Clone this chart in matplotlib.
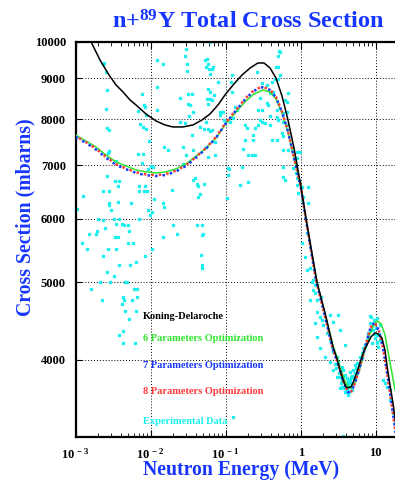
import matplotlib
matplotlib.use("Agg")
import matplotlib.pyplot as plt
from matplotlib.ticker import FixedLocator, FixedFormatter, LogLocator, NullFormatter

# ── Data ──────────────────────────────────────────────────────────────────────

kd_energy = [0.001, 0.00129, 0.0016, 0.00211, 0.00278, 0.00345, 0.00428, 0.0053,
             0.00637, 0.00866, 0.0118, 0.0155, 0.0198, 0.027, 0.0366, 0.0483,
             0.0618, 0.079, 0.1, 0.129, 0.165, 0.212, 0.269, 0.324, 0.39, 0.468,
             0.563, 0.677, 0.814, 1.0, 1.18, 1.37, 1.65, 2.11, 2.70, 3.05, 3.34,
             3.66, 4.0, 4.27, 4.68, 4.98, 5.45, 6.17, 6.98, 7.65, 8.65, 9.78,
             10.7, 12.1, 13.3, 14.2, 15.5, 17.0, 18.7]
kd_xs = [10800, 10343, 10000, 9486, 9085, 8827, 8650, 8454,
         8333, 8120, 7957, 7866, 7821, 7821, 7866, 7980,
         8120, 8333, 8601, 8853, 9085, 9270, 9405, 9405, 9270, 9007,
         8552, 7980, 7361, 6617, 6000, 5530, 5000, 4576, 4148, 4007, 3883,
         3774, 3697, 3688, 3697, 3741, 3827, 3961, 4102, 4172, 4270, 4320,
         4307, 4257, 4110, 3917, 3718, 3530, 3296]

p6_energy = [0.001, 0.00137, 0.00186, 0.00253, 0.00345, 0.00468, 0.00637,
             0.00866, 0.0118, 0.0159, 0.0217, 0.0296, 0.039, 0.0546, 0.0742,
             0.1, 0.137, 0.186, 0.238, 0.316, 0.39, 0.468, 0.563, 0.677, 0.814,
             1.0, 1.18, 1.37, 1.65, 2.11, 2.7, 3.05, 3.45, 3.89, 4.4, 4.83,
             5.29, 6.17, 7.2, 8.39, 9.5, 10.4, 11.8, 13.3, 14.2, 16.0, 18.1]
p6_xs = [7640, 7511, 7382, 7214, 7070, 6990, 6910,
         6870, 6850, 6870, 6930, 7030, 7173, 7361, 7576,
         7889, 8166, 8430, 8601, 8701, 8650, 8478, 8143, 7709, 7152,
         6600, 5970, 5500, 4990, 4563, 4160, 4031, 3883, 3760, 3686, 3686,
         3740, 3906, 4115, 4307, 4434, 4472, 4434, 4295, 4149, 3906, 3665]

p7_energy = [0.001, 0.00137, 0.00186, 0.00253, 0.00345, 0.00468, 0.00637,
             0.00866, 0.0118, 0.0159, 0.0217, 0.0296, 0.039, 0.0546, 0.0742,
             0.1, 0.137, 0.186, 0.238, 0.305, 0.39, 0.468, 0.563, 0.677, 0.814,
             1.0, 1.17, 1.36, 1.62, 2.07, 2.65, 3.0, 3.4, 3.8, 4.3, 4.75, 5.2,
             6.1, 7.1, 8.2, 8.9, 9.8, 11.0, 12.5, 14.0, 15.5, 17.0, 18.5]
p7_xs = [7598, 7470, 7330, 7160, 7010, 6925, 6850,
         6805, 6790, 6810, 6880, 6990, 7140, 7345, 7580,
         7900, 8200, 8490, 8680, 8770, 8700, 8520, 8170, 7720, 7150,
         6580, 6000, 5500, 5000, 4560, 4140, 4000, 3860, 3730, 3640, 3650, 3720,
         3900, 4120, 4330, 4430, 4440, 4350, 4140, 3880, 3640, 3420, 3230]

p8_energy = p7_energy
p8_xs = [7615, 7487, 7346, 7176, 7025, 6940, 6865,
         6820, 6805, 6825, 6895, 7005, 7155, 7360, 7595,
         7915, 8215, 8505, 8695, 8785, 8715, 8530, 8175, 7725, 7155,
         6585, 6005, 5505, 5000, 4560, 4140, 4000, 3860, 3730, 3640, 3650, 3720,
         3900, 4120, 4330, 4430, 4440, 4350, 4140, 3880, 3640, 3420, 3230]

# experimental points (energy MeV, cross section mb)
exp_points = [
    (0.00231, 9380), (0.00261, 8700), (0.00253, 8240), (0.00765, 8600), (0.00814, 8330),
    (0.0084, 8285), (0.00677, 8190), (0.00866, 8096), (0.0072, 7890), (0.00261, 7800),
    (0.00278, 7753), (0.00789, 7821), (0.00866, 7776), (0.00949, 7511), (0.00278, 7298),
    (0.0027, 7256), (0.00677, 7235), (0.00789, 7235), (0.00345, 7091), (0.00765, 7050),
    (0.00921, 6930), (0.0107, 6970), (0.00261, 6791), (0.00334, 6694), (0.00378, 6694),
    (0.00367, 6598), (0.00698, 6598), (0.00231, 6503), (0.00278, 6503), (0.00698, 6503),
    (0.00814, 6503), (0.00893, 6503), (0.0084, 6598), (0.00125, 6410), (0.00367, 6300),
    (0.00278, 6282), (0.00278, 6246), (0.00546, 6282), (0.00104, 6175), (0.00296, 6157),
    (0.00921, 6157), (0.00979, 6069), (0.00198, 6000), (0.00324, 6000), (0.00378, 6000),
    (0.00698, 6000), (0.00231, 5983), (0.00414, 5914), (0.00345, 5914), (0.00441, 5897),
    (0.00498, 5897), (0.00246, 5846), (0.00192, 5795), (0.00514, 5795), (0.00186, 5745),
    (0.0015, 5745), (0.00334, 5696), (0.00367, 5696),
    (0.00121, 5598), (0.00141, 5502), (0.0027, 5502), (0.00345, 5502), (0.00498, 5598),
    (0.00581, 5598), (0.0104, 5502), (0.00231, 5392), (0.0084, 5392), (0.00378, 5254),
    (0.0053, 5254), (0.00637, 5300), (0.00261, 5149), (0.00324, 5090), (0.00211, 5003),
    (0.00287, 5003), (0.00454, 5003), (0.00483, 5003), (0.0016, 4903), (0.00599, 4903),
    (0.00657, 4903), (0.00224, 4750), (0.00427, 4792), (0.00441, 4750), (0.00563, 4750),
    (0.00657, 4792), (0.00414, 4696), (0.00454, 4603), (0.00637, 4603), (0.00514, 4498),
    (0.00427, 4345), (0.00378, 4295), (0.00427, 4197), (0.00618, 4197),
    (0.0296, 9792), (0.0146, 9377), (0.0287, 9596), (0.0305, 9377), (0.0305, 9190),
    (0.053, 9486), (0.0563, 9514), (0.0581, 9377), (0.0546, 9297), (0.0599, 9243),
    (0.0657, 9243), (0.0677, 9297), (0.0618, 9111), (0.079, 8904), (0.0581, 8725),
    (0.0618, 8650), (0.0698, 8576), (0.0314, 8601), (0.0355, 8601), (0.0246, 8502),
    (0.0563, 8478), (0.0618, 8478), (0.0657, 8454), (0.0581, 8357), (0.0314, 8357),
    (0.0334, 8333), (0.0121, 8214), (0.0366, 8166), (0.0324, 8073), (0.0893, 8166),
    (0.0839, 8096), (0.0246, 7934), (0.0287, 7911), (0.0546, 7934), (0.0949, 7980),
    (0.0454, 7821), (0.0514, 7776), (0.0581, 7776), (0.0618, 7731), (0.0657, 7753),
    (0.0355, 7643), (0.015, 7382), (0.017, 7319), (0.027, 7382), (0.0366, 7319),
    (0.053, 7361), (0.072, 7490), (0.072, 7214), (0.0296, 7214), (0.0581, 7173),
    (0.027, 7030), (0.0101, 6990), (0.111, 6930), (0.039, 6752), (0.0366, 6713),
    (0.0414, 6636), (0.0428, 6598), (0.0514, 6636), (0.0454, 6447), (0.0428, 6391),
    (0.0192, 6522), (0.0146, 6282), (0.015, 6210), (0.0111, 6355), (0.0104, 6121),
    (0.0198, 5897), (0.0414, 5897), (0.0483, 5897), (0.0498, 5745), (0.0483, 5729),
    (0.0224, 5745), (0.0146, 5696), (0.0469, 5408), (0.0483, 5254), (0.0483, 5209),
    (0.0618, 9990), (0.0121, 9486), (0.0121, 8776), (0.00238, 9405), (0.00253, 9164),
    (0.53, 9707), (0.498, 9596), (0.468, 9297), (0.498, 9297), (0.53, 9085),
    (0.454, 8981), (0.498, 8981), (0.261, 9164), (0.121, 9085), (0.118, 8904),
    (0.121, 8650), (0.305, 8878), (0.414, 8904), (0.355, 8827), (0.427, 8650),
    (0.39, 8626), (0.677, 8626), (0.617, 8454), (0.657, 8405), (0.287, 8502),
    (0.355, 8380), (0.305, 8214), (0.269, 8214), (0.366, 8333), (0.483, 8214),
    (0.133, 8285), (0.142, 8214), (0.125, 8026), (0.092, 8166), (0.39, 8073),
    (0.483, 8049), (0.581, 8143), (0.657, 8166), (0.287, 7980), (0.305, 7934),
    (0.334, 7911), (0.39, 7866), (0.269, 7866), (0.181, 7866), (0.192, 7798),
    (0.246, 7798), (0.498, 7980), (0.581, 7934), (0.657, 7866), (0.231, 7643),
    (0.563, 7687), (0.581, 7620), (0.181, 7533), (0.231, 7533), (0.414, 7533),
    (0.483, 7533), (0.17, 7340), (0.198, 7214), (0.224, 7214), (0.246, 7214),
    (0.581, 7319), (0.677, 7319), (0.766, 7382), (0.892, 7277), (0.978, 7277),
    (0.892, 7152), (0.165, 6970), (0.107, 6950), (0.107, 6811), (0.581, 6970),
    (0.79, 6950), (0.865, 6850), (0.581, 6772), (0.617, 6713), (0.155, 6617),
    (0.198, 6675), (0.892, 6752), (0.892, 6617), (1.04, 6579), (1.25, 6579),
    (0.92, 6466), (1.07, 6391), (1.04, 6336), (1.25, 6282), (0.104, 6373),
    (1.21, 5762), (1.04, 5598), (1.14, 5377), (1.21, 5179), (1.33, 5209),
    (1.46, 5032), (1.65, 4960), (1.46, 4889), (1.55, 4847), (1.65, 4750),
    (1.86, 4792), (0.114, 7934), (0.0839, 8166), (0.52, 9730),
    (1.33, 4750), (1.55, 4960), (1.41, 5003), (1.65, 4589), (1.81, 4524),
    (1.92, 4485), (1.98, 4421), (2.46, 4550), (3.15, 4550), (2.24, 4320),
    (2.46, 4234), (2.61, 4149), (2.7, 4090), (3.05, 4031), (3.15, 3973),
    (3.55, 3917), (3.66, 3883), (3.89, 3827), (4.14, 3794), (4.54, 3772),
    (4.83, 3805), (4.98, 3883), (5.29, 3850), (4.27, 3740), (4.54, 3697),
    (4.14, 3665), (3.89, 3644), (3.34, 3686), (5.63, 3962), (6.17, 4031),
    (6.56, 4078), (6.77, 4137), (7.2, 4173), (7.65, 4234), (7.89, 4295),
    (8.39, 4357), (8.65, 4524), (8.39, 4446), (9.2, 4421), (9.78, 4258),
    (10.4, 4197), (8.92, 4197), (10.7, 4149), (11.4, 4234), (10.4, 4295),
    (13.3, 3740), (14.2, 3697), (15.5, 3665), (17.0, 3430), (18.1, 3333),
    (1.55, 4446), (1.65, 4270), (1.81, 4137), (2.11, 4031), (2.46, 3973),
    (2.7, 3883), (3.05, 3805), (3.66, 3772), (4.14, 3718), (4.27, 3613),
    (4.98, 3740), (5.81, 3883), (6.56, 4031), (7.2, 4149), (7.89, 4270),
    (8.39, 4537), (9.2, 4357), (10.4, 4209), (12.5, 3772), (15.5, 3561),
    (3.66, 3210), (2.7, 4459), (3.34, 4357), (3.89, 4173), (4.54, 3861),
    (5.29, 3940), (4.83, 3665), (4.4, 3644), (9.78, 4485), (10.4, 4511),
    (11.4, 4421),
    (2.9, 3950), (3.0, 3900), (3.2, 3850), (3.3, 3800), (3.5, 3760),
    (3.6, 3700), (3.8, 3680), (4.0, 3720), (4.2, 3690), (4.4, 3700),
    (4.6, 3740), (4.7, 3800), (4.9, 3820), (5.1, 3790), (3.7, 3820),
    (3.4, 3740), (4.0, 3640), (4.3, 3760), (5.5, 3900), (6.0, 3960),
    (9.0, 4350), (9.5, 4300), (10.0, 4380), (8.0, 4320), (11.0, 4300),
    (9.5, 4480),
]

y_ticks = [4000, 5000, 6000, 7000, 8000, 9000, 10000]
x_ticks = [1e-3, 1e-2, 1e-1, 1, 10]
x_tick_labels = [r"10$^{\,-3}$", r"10$^{\,-2}$", r"10$^{\,-1}$", "1", "10"]

legend_labels = ["Koning-Delaroche", "6 Parameters Optimization",
                 "7 Parameters Optimization", "8 Parameters Optimization",
                 "Experimental Data"]

# ── Style ─────────────────────────────────────────────────────────────────────

BLUE = "#1636ff"
GREEN = "#2ee62e"
RED = "#ff3a3a"
CYAN = "#19f0f0"

plt.rcParams["font.family"] = ["Liberation Serif", "DejaVu Serif"]
plt.rcParams["font.weight"] = "bold"
plt.rcParams["mathtext.default"] = "regular"

fig = plt.figure(figsize=(3.95, 4.82), dpi=100)
ax = fig.add_axes([0.1916, 0.0934, 0.8167, 0.8201])

exp_e = [p[0] for p in exp_points]
exp_s = [p[1] for p in exp_points]
ax.plot(exp_e, exp_s, linestyle="none", marker="s", markersize=1.4,
        color=CYAN, mec=CYAN, zorder=2)

ax.plot(kd_energy, kd_xs, color="black", lw=1.1, zorder=4)
ax.plot(p6_energy, p6_xs, color=GREEN, lw=1.1, zorder=3)
ax.plot(p7_energy, p7_xs, color=BLUE, lw=1.8, ls=(0, (1, 2)), zorder=3)
ax.plot(p8_energy, p8_xs, color=RED, lw=1.8, ls=(1.5, (1, 2)), zorder=3)

ax.set_xscale("log")
ax.set_yscale("log")
ax.set_xlim(1e-3, 20)
ax.set_ylim(3200, 10000)

ax.xaxis.set_major_locator(FixedLocator(x_ticks))
ax.xaxis.set_major_formatter(FixedFormatter(x_tick_labels))
ax.xaxis.set_minor_locator(LogLocator(base=10, subs=range(2, 10)))
ax.xaxis.set_minor_formatter(NullFormatter())
ax.yaxis.set_major_locator(FixedLocator(y_ticks))
ax.yaxis.set_major_formatter(FixedFormatter([str(v) for v in y_ticks]))
ax.yaxis.set_minor_locator(FixedLocator([]))

ax.tick_params(axis="x", which="major", direction="in", length=5, width=0.8,
               top=True, labelsize=9, pad=7)
ax.tick_params(axis="x", which="minor", direction="in", length=3, width=0.6,
               top=True)
ax.tick_params(axis="y", which="major", direction="in", length=4, width=0.8,
               labelsize=9, pad=7)
for lab in ax.get_xticklabels() + ax.get_yticklabels():
    lab.set_fontweight("bold")

ax.grid(True, which="major", color="black", lw=0.7, ls=(0, (1, 2)))
for side in ("left", "bottom", "top"):
    ax.spines[side].set_linewidth(1.6)

ax.set_xlabel("Neutron Energy (MeV)", color=BLUE, fontsize=14.2,
              fontweight="bold", va="center")
ax.xaxis.set_label_coords(0.512, -0.083)
ax.set_ylabel("Cross Section (mbarns)", color=BLUE, fontsize=14.2,
              fontweight="bold", va="center")
ax.yaxis.set_label_coords(-0.157, 0.557)

fig.text(0.627, 1 - 22 / 482, r"n+$^{89}$Y Total Cross Section", color=BLUE,
         fontsize=17.5, fontweight="bold", ha="center", va="center")

legend_colors = ["black", GREEN, BLUE, RED, CYAN]
legend_y = [0.306, 0.248, 0.182, 0.114, 0.038]
for text, col, yy in zip(legend_labels, legend_colors, legend_y):
    ax.text(0.209, yy, text, color=col, fontsize=7.5, fontweight="bold",
            transform=ax.transAxes, va="center", ha="left")
ax.plot([0.489], [0.051], transform=ax.transAxes, linestyle="none",
        marker="s", markersize=1.4, color=CYAN, clip_on=False)

fig.savefig("out.png", dpi=100)
